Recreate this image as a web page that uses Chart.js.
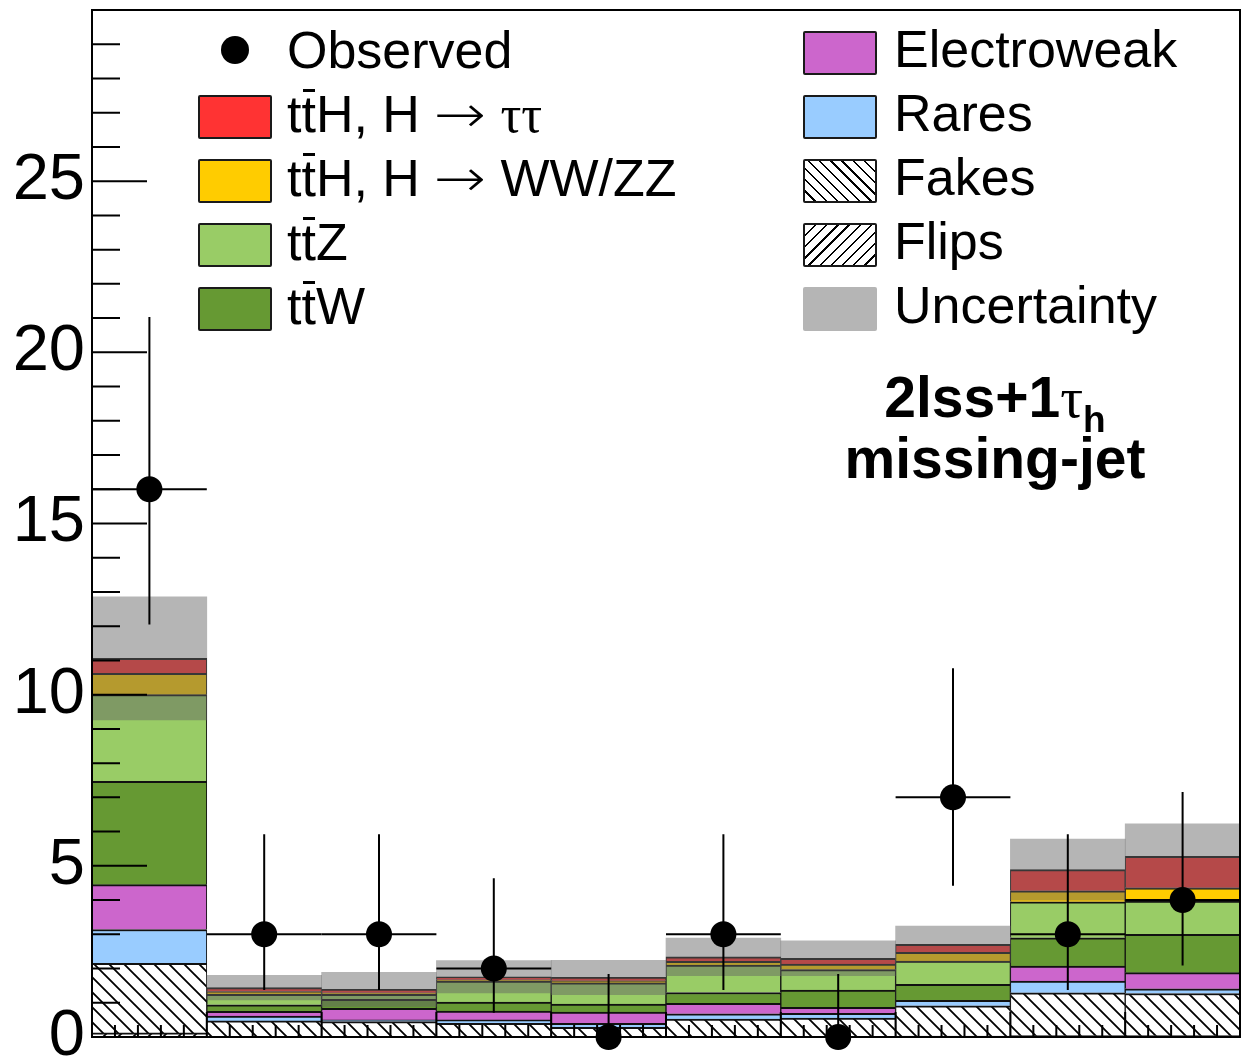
<!DOCTYPE html>
<html>
<head>
<meta charset="utf-8">
<script src="https://cdn.jsdelivr.net/npm/chart.js@4.4.1/dist/chart.umd.min.js"></script>
<style>
  html, body { margin: 0; padding: 0; background: #fff; }
  #wrap { position: relative; width: 1241px; height: 1060px; overflow: hidden; font-family: "Liberation Sans", Arial, sans-serif; color: #000; }
  #chart { position: absolute; left: 0; top: 0; }
  .txt { position: absolute; font-size: 52px; line-height: 52px; white-space: nowrap; }
  .box { position: absolute; width: 74px; height: 44px; box-sizing: border-box; border: 2px solid #1a1a1a; border-radius: 2px; }
  .dot { position: absolute; width: 28px; height: 28px; border-radius: 50%; background: #000; }
  .serif { font-family: "Liberation Serif", "Times New Roman", serif; }
  .arr { display: inline-block; font-family: "DejaVu Sans", sans-serif; font-weight: 200; transform: scaleX(1.2); margin: 0 4px; }
  .tb { position: relative; }
  .tb::before { content: ""; position: absolute; left: 2px; right: 1px; top: 4px; height: 3px; background: #000; }
  .lbl { position: absolute; left: 745px; width: 500px; text-align: center; font-weight: bold; font-size: 57px; line-height: 57px; white-space: nowrap; }
  .sub { position: relative; top: 15px; font-size: 37px; }
</style>
</head>
<body>
<div id="wrap">
  <canvas id="chart" width="1241" height="1060"></canvas>

  <div class="dot" style="left:221px; top:36px;"></div>
  <div class="txt" style="left:287px; top:24px;">Observed</div>
  <div class="box" style="left:198px; top:95px; background:#ff3333;"></div>
  <div class="txt" style="left:287px; top:88px;">t<span class="tb">t</span>H, H <span class="arr">&rarr;</span> <span class="serif">ττ</span></div>
  <div class="box" style="left:198px; top:159px; background:#ffcc00;"></div>
  <div class="txt" style="left:287px; top:152px;">t<span class="tb">t</span>H, H <span class="arr">&rarr;</span> WW/ZZ</div>
  <div class="box" style="left:198px; top:223px; background:#99cc66;"></div>
  <div class="txt" style="left:287px; top:216px;">t<span class="tb">t</span>Z</div>
  <div class="box" style="left:198px; top:287px; background:#669933;"></div>
  <div class="txt" style="left:287px; top:280px;">t<span class="tb">t</span>W</div>

  <div class="box" style="left:803px; top:31px; background:#cc66cc;"></div>
  <div class="txt" style="left:894px; top:23px;">Electroweak</div>
  <div class="box" style="left:803px; top:95px; background:#99ccff;"></div>
  <div class="txt" style="left:894px; top:87px;">Rares</div>
  <div class="box" style="left:803px; top:159px; background:repeating-linear-gradient(45deg, #fff 0 6.3px, #000 6.3px 7.9px);"></div>
  <div class="txt" style="left:894px; top:151px;">Fakes</div>
  <div class="box" style="left:803px; top:223px; background:repeating-linear-gradient(-45deg, #fff 0 6.3px, #000 6.3px 7.9px);"></div>
  <div class="txt" style="left:894px; top:215px;">Flips</div>
  <div class="box" style="left:803px; top:287px; background:#b5b5b5; border:none;"></div>
  <div class="txt" style="left:894px; top:279px;">Uncertainty</div>

  <div class="lbl" style="top:369px;">2lss+1<span class="serif" style="font-weight:normal">τ</span><span class="sub">h</span></div>
  <div class="lbl" style="top:430px;">missing-jet</div>
</div>

<script>
// 10 bins, no x labels in the original
const bins = ['1', '2', '3', '4', '5', '6', '7', '8', '9', '10'];

const observed = [16, 3, 3, 2, 0, 3, 0, 7, 3, 4];
const obsLow   = [12.05, 1.37, 1.37, 0.71, 0, 1.37, 0, 4.42, 1.37, 2.09];
const obsHigh  = [21.03, 5.92, 5.92, 4.64, 1.84, 5.92, 1.84, 10.77, 5.92, 7.16];

// stack, bottom to top
const flips       = [0.12, 0.02, 0.02, 0.02, 0.01, 0.02, 0.02, 0.03, 0.04, 0.04];
const fakes       = [2.03, 0.45, 0.43, 0.38, 0.27, 0.50, 0.53, 0.88, 1.25, 1.23];
const rares       = [0.99, 0.14, 0.05, 0.10, 0.12, 0.16, 0.14, 0.16, 0.34, 0.14];
const electroweak = [1.31, 0.14, 0.34, 0.26, 0.33, 0.30, 0.18, 0.00, 0.44, 0.47];
const ttW         = [3.02, 0.19, 0.26, 0.26, 0.23, 0.32, 0.50, 0.47, 0.83, 1.12];
const ttZ         = [2.53, 0.31, 0.15, 0.61, 0.62, 0.80, 0.60, 0.68, 1.05, 0.97];
const ttH_WWZZ    = [0.62, 0.08, 0.04, 0.04, 0.06, 0.11, 0.16, 0.25, 0.32, 0.39];
const ttH_tautau  = [0.44, 0.11, 0.10, 0.09, 0.10, 0.13, 0.17, 0.24, 0.62, 0.92];
const uncertainty = [1.80, 0.36, 0.50, 0.47, 0.50, 0.55, 0.51, 0.53, 0.89, 0.95];

const yTicks = [0, 5, 10, 15, 20, 25];

function hatch(dir) {
  const c = document.createElement('canvas');
  c.width = 15; c.height = 15;
  const g = c.getContext('2d');
  g.fillStyle = '#fff';
  g.fillRect(0, 0, 15, 15);
  g.strokeStyle = '#000';
  g.lineWidth = 1.8;
  g.beginPath();
  if (dir === 'back') {
    g.moveTo(-2, -2); g.lineTo(17, 17);
    g.moveTo(-2, 13); g.lineTo(2, 17);
    g.moveTo(13, -2); g.lineTo(17, 2);
  } else {
    g.moveTo(-2, 17); g.lineTo(17, -2);
    g.moveTo(-2, 2); g.lineTo(2, -2);
    g.moveTo(13, 17); g.lineTo(17, 13);
  }
  g.stroke();
  return g.createPattern(c, 'repeat');
}

const ctx = document.getElementById('chart').getContext('2d');

const stackSet = (label, data, color) => ({
  type: 'bar',
  label: label,
  data: data,
  backgroundColor: color,
  borderColor: '#111',
  borderWidth: { top: 2, left: 1, right: 1, bottom: 0 },
  borderSkipped: false,
  stack: 'mc',
  order: 2,
  categoryPercentage: 1,
  barPercentage: 1
});

const layers = [flips, fakes, rares, electroweak, ttW, ttZ, ttH_WWZZ, ttH_tautau];
const total = bins.map((_, i) => layers.reduce((s, a) => s + a[i], 0));

const errorBars = {
  id: 'errorBars',
  beforeDatasetDraw(chart, args) {
    if (args.meta.type !== 'line') return;
    const { ctx, scales: { x, y } } = chart;
    const half = (x.getPixelForValue(1) - x.getPixelForValue(0)) / 2;
    ctx.save();
    ctx.strokeStyle = '#000';
    ctx.lineWidth = 2;
    observed.forEach((v, i) => {
      const px = x.getPixelForValue(i);
      const py = y.getPixelForValue(v);
      ctx.beginPath();
      ctx.moveTo(px, y.getPixelForValue(obsHigh[i]));
      ctx.lineTo(px, y.getPixelForValue(obsLow[i]));
      ctx.moveTo(px - half, py);
      ctx.lineTo(px + half, py);
      ctx.stroke();
    });
    ctx.restore();
  }
};

// ROOT style frame with inward ticks
const frame = {
  id: 'frame',
  afterDraw(chart) {
    const { ctx, chartArea: a, scales: { x, y } } = chart;
    ctx.save();
    ctx.strokeStyle = '#000';
    ctx.lineWidth = 2;
    ctx.beginPath();
    for (let v = 1; v < 30; v++) {
      const py = y.getPixelForValue(v);
      ctx.moveTo(a.left, py);
      ctx.lineTo(a.left + (v % 5 === 0 ? 55 : 28), py);
    }
    const w = x.getPixelForValue(1) - x.getPixelForValue(0);
    for (let i = 0; i < bins.length; i++) {
      const left = x.getPixelForValue(i) - w / 2;
      for (let k = 0; k < 5; k++) {
        if (i === 0 && k === 0) continue;
        const px = left + k * w / 5;
        ctx.moveTo(px, a.bottom);
        ctx.lineTo(px, a.bottom - (k === 0 ? 25 : 12));
      }
    }
    ctx.stroke();
    ctx.strokeRect(a.left, a.top, a.right - a.left, a.bottom - a.top);
    ctx.restore();
  }
};

new Chart(ctx, {
  data: {
    labels: bins,
    datasets: [
      {
        type: 'line',
        label: 'Observed',
        data: observed,
        showLine: false,
        pointRadius: 13,
        pointHoverRadius: 13,
        pointBackgroundColor: '#000',
        pointBorderWidth: 0,
        order: 0,
        clip: false
      },
      {
        type: 'bar',
        label: 'Uncertainty',
        data: bins.map((_, i) => [total[i] - uncertainty[i], total[i] + uncertainty[i]]),
        backgroundColor: 'rgba(98, 98, 98, 0.47)',
        borderWidth: 0,
        stack: 'unc',
        grouped: false,
        order: 1,
        categoryPercentage: 1,
        barPercentage: 1
      },
      stackSet('Flips', flips, hatch('fwd')),
      stackSet('Fakes', fakes, hatch('back')),
      stackSet('Rares', rares, '#99ccff'),
      stackSet('Electroweak', electroweak, '#cc66cc'),
      stackSet('ttW', ttW, '#669933'),
      stackSet('ttZ', ttZ, '#99cc66'),
      stackSet('ttH, H -> WW/ZZ', ttH_WWZZ, '#ffcc00'),
      stackSet('ttH, H -> tautau', ttH_tautau, '#ff3333')
    ]
  },
  options: {
    responsive: false,
    devicePixelRatio: 1,
    animation: false,
    events: [],
    layout: { autoPadding: false, padding: { top: 10, right: 1, bottom: 23, left: 0 } },
    plugins: {
      legend: { display: false },
      tooltip: { enabled: false }
    },
    scales: {
      x: {
        type: 'category',
        stacked: true,
        offset: true,
        display: false
      },
      y: {
        stacked: true,
        min: 0,
        max: 30,
        afterBuildTicks: (s) => { s.ticks = yTicks.map(v => ({ value: v })); },
        afterFit: (s) => { s.width = 92; s.paddingTop = 0; s.paddingBottom = 0; },
        ticks: {
          color: '#000',
          padding: 7,
          font: { family: 'Liberation Sans', size: 65 }
        },
        grid: { display: false, drawTicks: false },
        border: { display: false }
      }
    }
  },
  plugins: [errorBars, frame]
});
</script>
</body>
</html>
